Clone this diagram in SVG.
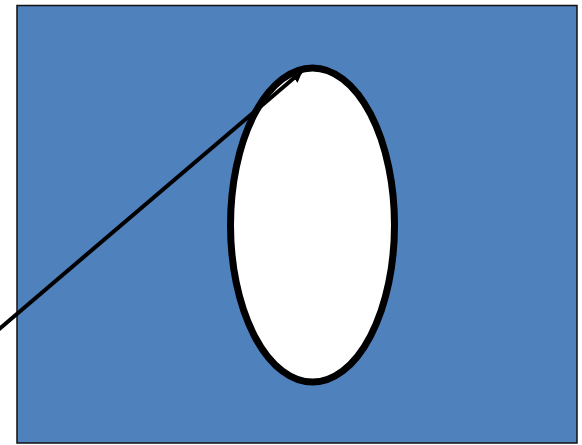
<svg xmlns="http://www.w3.org/2000/svg" width="582" height="445" viewBox="0 0 582 445">
<defs>
<marker id="ah" viewBox="0 0 10 10" refX="8" refY="5" markerWidth="3" markerHeight="3" orient="auto" markerUnits="strokeWidth">
<path d="M0,0 L10,5 L0,10 Z" fill="#000"/>
</marker>
</defs>
<g id="background">
<rect x="17" y="5.5" width="560" height="437.5" fill="#4F81BD" stroke="#111" stroke-width="1.5"/>
</g>
<g id="ellipse">
<ellipse cx="312.5" cy="225" rx="82" ry="157" fill="#fff" stroke="#000" stroke-width="7"/>
</g>
<g id="connectors">
<line x1="-2" y1="330" x2="301" y2="72" stroke="#000" stroke-width="4" marker-end="url(#ah)"/>
</g>
</svg>
